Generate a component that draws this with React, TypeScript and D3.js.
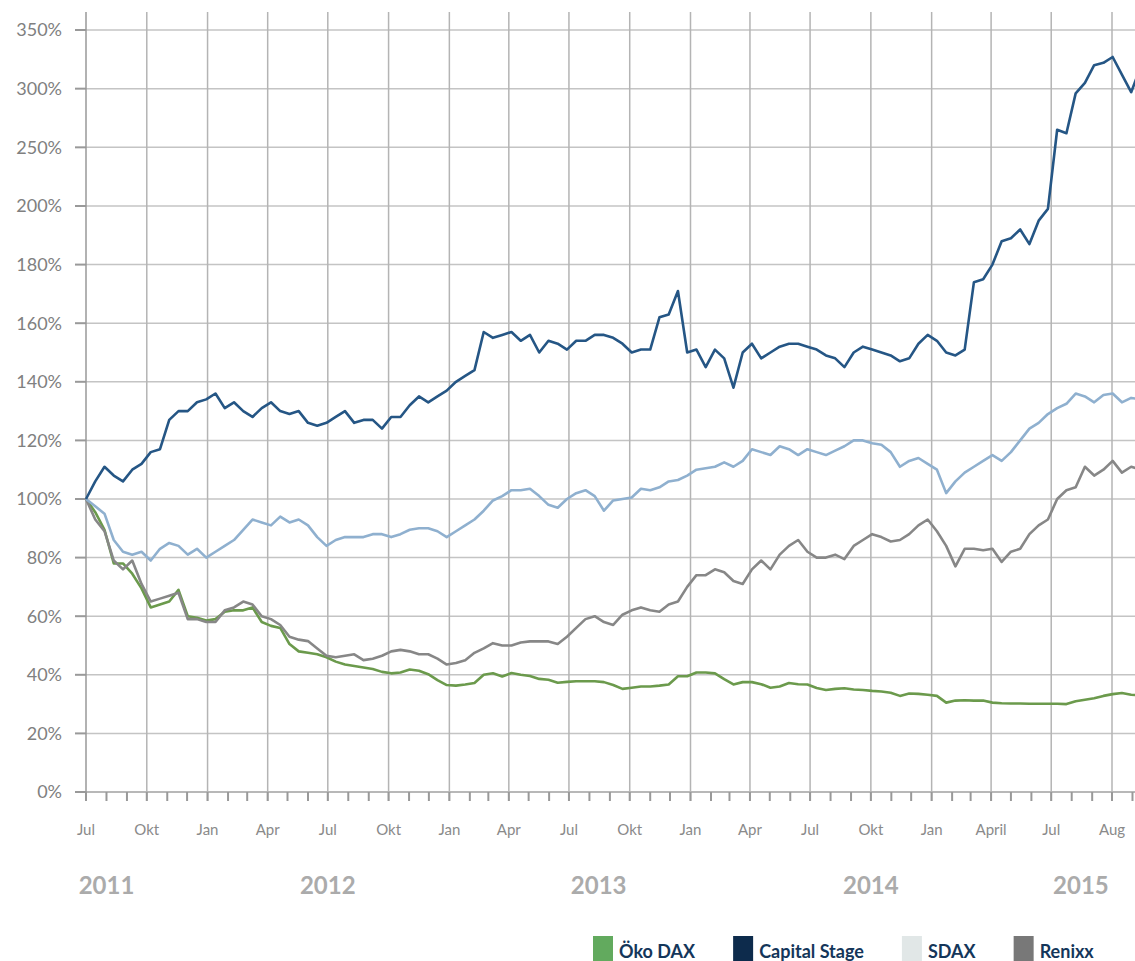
import * as d3 from "d3";
import { useEffect, useRef } from "react";

// values in % of start, one point every 14 days from 1 Jul 2011
const capitalStage = [
  100, 106, 111, 108, 106, 110, 112, 116, 117, 127,
  130, 130, 133, 134, 136, 131, 133, 130, 128, 131,
  133, 130, 129, 130, 126, 125, 126, 128, 130, 126,
  127, 127, 124, 128, 128, 132, 135, 133, 135, 137,
  140, 142, 144, 157, 155, 156, 157, 154, 156, 150,
  154, 153, 151, 154, 154, 156, 156, 155, 153, 150,
  151, 151, 162, 163, 171, 150, 151, 145, 151, 148,
  138, 150, 153, 148, 150, 152, 153, 153, 152, 151,
  149, 148, 145, 150, 152, 151, 150, 149, 147, 148,
  153, 156, 154, 150, 149, 151, 174, 175, 180, 188,
  189, 192, 187, 195, 199, 265, 262, 296, 305, 320,
  322, 327, 312, 297, 318
];

const sdax = [
  100, 97.5, 95, 86, 82, 81, 82, 79, 83, 85,
  84, 81, 83, 80, 82, 84, 86, 89.5, 93, 92,
  91, 94, 92, 93, 91, 87, 84, 86, 87, 87,
  87, 88, 88, 87, 88, 89.5, 90, 90, 89, 87,
  89, 91, 93, 96, 99.5, 101, 103, 103, 103.5, 101,
  98, 97, 100, 102, 103, 101, 96, 99.5, 100, 100.5,
  103.5, 103, 104, 106, 106.5, 108, 110, 110.5, 111, 112.5,
  111, 113, 117, 116, 115, 118, 117, 115, 117, 116,
  115, 116.5, 118, 120, 120, 119, 118.5, 116, 111, 113,
  114, 112, 110, 102, 106, 109, 111, 113, 115, 113,
  116, 120, 124, 126, 129, 131, 132.5, 136, 135, 133,
  135.5, 136, 133, 134.5, 134
];

const renixx = [
  100, 93, 89, 79, 76, 79, 71, 65, 66, 67,
  68, 59, 59, 58, 58, 62, 63, 65, 64, 60,
  59, 57, 53, 52, 51.5, 49, 46.5, 46, 46.5, 47,
  45, 45.5, 46.5, 48, 48.5, 48, 47, 47, 45.5, 43.5,
  44, 45, 47.5, 49, 50.8, 50, 50, 51, 51.4, 51.4,
  51.4, 50.5, 53, 56, 59, 60, 58, 57, 60.5, 62,
  63, 62, 61.5, 64, 65, 70, 74, 74, 76, 75,
  72, 71, 76, 79, 76, 81, 84, 86, 82, 80,
  80, 81, 79.5, 84, 86, 88, 87, 85.5, 86, 88,
  91, 93, 89, 84, 77, 83, 83, 82.5, 83, 78.5,
  82, 83, 88, 91, 93, 100, 103, 104, 111, 108,
  110, 113, 109, 111, 110
];

const okoDax = [
  100, 95.5, 89.5, 78, 78, 74.5, 69.5, 63, 64, 65,
  69, 60, 59.5, 58.5, 59, 61.5, 62, 62, 63, 58,
  56.7, 56, 50.5, 48, 47.5, 47, 46, 44.5, 43.5, 43,
  42.5, 42, 41, 40.5, 40.8, 41.8, 41.4, 40.2, 38.2, 36.5,
  36.3, 36.7, 37.2, 40, 40.5, 39.4, 40.6, 40, 39.6, 38.6,
  38.3, 37.3, 37.6, 37.8, 37.8, 37.8, 37.5, 36.5, 35.2, 35.6,
  36, 36, 36.3, 36.7, 39.5, 39.5, 40.8, 40.8, 40.5, 38.5,
  36.7, 37.5, 37.5, 36.8, 35.6, 36, 37.2, 36.8, 36.7, 35.5,
  34.8, 35.2, 35.4, 35, 34.8, 34.5, 34.3, 33.9, 32.8, 33.6,
  33.5, 33.2, 32.8, 30.5, 31.2, 31.3, 31.2, 31.2, 30.5, 30.3,
  30.2, 30.2, 30.1, 30.1, 30.1, 30.1, 30, 31, 31.5, 32,
  32.8, 33.4, 33.8, 33.2, 33
];

const yTicks = [0, 20, 40, 60, 80, 100, 120, 140, 160, 180, 200, 250, 300, 350];
const monthLabels = ["Jul", "Okt", "Jan", "Apr", "Jul", "Okt", "Jan", "Apr", "Jul", "Okt", "Jan", "Apr", "Jul", "Okt", "Jan", "April", "Jul", "Aug"];
const yearLabels = [
  { year: "2011", date: new Date(2011, 7, 1) },
  { year: "2012", date: new Date(2012, 6, 1) },
  { year: "2013", date: new Date(2013, 7, 15) },
  { year: "2014", date: new Date(2014, 9, 1) },
  { year: "2015", date: new Date(2015, 7, 15) }
];

const W = 1135;
const H = 961;
const margin = { top: 12, left: 86, bottom: 792 };

export default function App() {
  const chartRef = useRef<SVGSVGElement>(null);

  useEffect(() => {
    const svg = d3.select(chartRef.current);
    svg.selectAll("*").remove();

    const start = new Date(2011, 6, 1);
    const dates = d3.range(capitalStage.length).map(i => d3.timeDay.offset(start, 14 * i));

    const x = d3.scaleTime()
      .domain([start, new Date(2015, 9, 1)])
      .range([margin.left, 1112]);
    // scale breaks at 200%: above that one grid step is 50%
    const y = d3.scaleLinear()
      .domain([0, 200, 350])
      .range([margin.bottom, 206, 30]);

    const quarters = d3.timeMonth.every(3)!.range(start, new Date(2015, 9, 2));
    const months = d3.timeMonth.range(start, new Date(2015, 10, 2));

    // horizontal grid
    const gy = svg.append("g");
    yTicks.forEach(v => {
      gy.append("line")
        .attr("x1", margin.left).attr("x2", W)
        .attr("y1", y(v)).attr("y2", y(v))
        .attr("stroke", v === 0 ? "#a0a0a0" : "#c4c4c4")
        .attr("stroke-width", 1.5);
      gy.append("line")
        .attr("x1", 75).attr("x2", margin.left)
        .attr("y1", y(v)).attr("y2", y(v))
        .attr("stroke", "#999")
        .attr("stroke-width", 2);
      gy.append("text")
        .attr("x", 62).attr("y", y(v))
        .attr("dy", "0.36em")
        .attr("text-anchor", "end")
        .attr("font-size", 18)
        .attr("fill", "#808080")
        .text(`${v}%`);
    });

    // vertical grid at quarters
    svg.append("g").selectAll("line")
      .data(quarters)
      .enter()
      .append("line")
      .attr("x1", d => x(d)).attr("x2", d => x(d))
      .attr("y1", margin.top).attr("y2", 801)
      .attr("stroke", (d, i) => i === 0 ? "#999" : "#b4b4b4")
      .attr("stroke-width", 1.5);

    // monthly ticks
    svg.append("g").selectAll("line")
      .data(months)
      .enter()
      .append("line")
      .attr("x1", d => x(d)).attr("x2", d => x(d))
      .attr("y1", margin.bottom).attr("y2", 801)
      .attr("stroke", "#999")
      .attr("stroke-width", 2);

    svg.append("g").selectAll("text")
      .data(quarters)
      .enter()
      .append("text")
      .attr("x", d => x(d))
      .attr("y", 835)
      .attr("text-anchor", "middle")
      .attr("font-size", 15)
      .attr("fill", "#8a8a8a")
      .text((d, i) => monthLabels[i]);

    svg.append("g").selectAll("text")
      .data(yearLabels)
      .enter()
      .append("text")
      .attr("x", d => x(d.date))
      .attr("y", 894)
      .attr("text-anchor", "middle")
      .attr("font-size", 24)
      .attr("font-weight", 700)
      .attr("fill", "#ababab")
      .text(d => d.year);

    const series = [
      { name: "Öko DAX", values: okoDax, color: "#6b9a4c" },
      { name: "Renixx", values: renixx, color: "#878787" },
      { name: "SDAX", values: sdax, color: "#8fb0cf" },
      { name: "Capital Stage", values: capitalStage, color: "#255685" }
    ];

    const line = d3.line<number>()
      .x((d, i) => x(dates[i]))
      .y(d => y(d));

    svg.append("g").selectAll("path")
      .data(series)
      .enter()
      .append("path")
      .attr("d", d => line(d.values))
      .attr("fill", "none")
      .attr("stroke", d => d.color)
      .attr("stroke-width", 2.6)
      .attr("stroke-linejoin", "round");

    // legend
    const legend = [
      { name: "Öko DAX", color: "#62aa5e" },
      { name: "Capital Stage", color: "#0d2b4c" },
      { name: "SDAX", color: "#e1e7e7" },
      { name: "Renixx", color: "#787878" }
    ];
    let lx = 593;
    const gl = svg.append("g");
    legend.forEach(item => {
      gl.append("rect")
        .attr("x", lx).attr("y", 936)
        .attr("width", 20).attr("height", 27)
        .attr("fill", item.color);
      const t = gl.append("text")
        .attr("x", lx + 26).attr("y", 958)
        .attr("font-size", 18)
        .attr("font-weight", 700)
        .attr("fill", "#14365a")
        .text(item.name);
      const w = (t.node() as SVGTextElement).getComputedTextLength();
      lx += 26 + w + 38;
    });
  }, []);

  return (
    <svg
      ref={chartRef}
      width={W}
      height={H}
      style={{ position: "absolute", left: 0, top: 0, fontFamily: "Lato, sans-serif" }}
    />
  );
}
